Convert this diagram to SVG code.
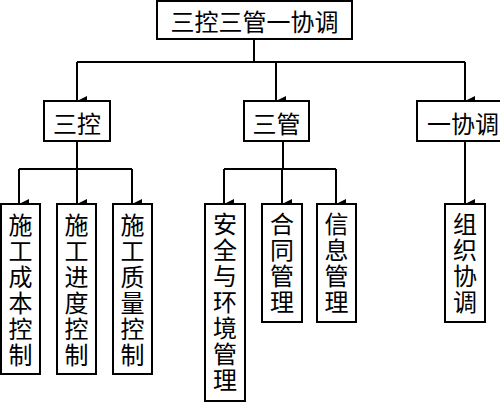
<svg xmlns="http://www.w3.org/2000/svg" width="500" height="412" viewBox="0 0 500 412">
<defs>
<marker id="arr" markerUnits="userSpaceOnUse" markerWidth="10" markerHeight="10" viewBox="0 0 10 10" refX="5" refY="10" orient="auto-start-reverse">
<path d="M0,0 L10,0 L5,10 Z" fill="#000"/>
</marker>
<style>
rect{fill:#fff;stroke:#000;stroke-width:2}
text{font-family:"Noto Sans CJK SC","Noto Sans",sans-serif;font-size:24px;fill:#000;text-anchor:middle;dominant-baseline:central}
text.v{writing-mode:vertical-rl;text-orientation:upright;letter-spacing:2px}
.c path{fill:none;stroke:#000;stroke-width:2}
.a{marker-end:url(#arr)}
</style>
</defs>
<rect x="0" y="0" width="500" height="412" style="fill:#fff;stroke:none"/>
<g class="c" id="connectors">
<path d="M254,39 V62 M77,62 H465"/>
<path class="a" d="M77,62 V101"/>
<path class="a" d="M276,62 V101"/>
<path class="a" d="M465,62 V101"/>
<path d="M77,141 V169 M19,169 H132"/>
<path class="a" d="M19,169 V204"/>
<path class="a" d="M77,169 V204"/>
<path class="a" d="M132,169 V204"/>
<path d="M283,141 V169 M224,169 H336"/>
<path class="a" d="M224,169 V204"/>
<path class="a" d="M282,169 V204"/>
<path class="a" d="M336,169 V204"/>
<path class="a" d="M465,141 V204"/>
</g>
<g id="root"><rect x="157" y="1" width="195" height="38"/><text x="254.5" y="20">三控三管一协调</text></g>
<g id="sankong"><rect x="44" y="101" width="66" height="40"/><text x="77" y="122">三控</text></g>
<g id="sanguan"><rect x="244" y="101" width="65" height="40"/><text x="276.5" y="122">三管</text></g>
<g id="yixietiao"><rect x="417" y="101" width="96" height="40"/><text x="463" y="122">一协调</text></g>
<g id="n1"><rect x="1" y="204" width="39" height="170"/><text class="v" x="20.5" y="291">施工成本控制</text></g>
<g id="n2"><rect x="57" y="204" width="39" height="170"/><text class="v" x="76.5" y="291">施工进度控制</text></g>
<g id="n3"><rect x="113" y="204" width="39" height="170"/><text class="v" x="132.5" y="291">施工质量控制</text></g>
<g id="n4"><rect x="205" y="204" width="40" height="197"/><text class="v" x="225" y="303">安全与环境管理</text></g>
<g id="n5"><rect x="262" y="204" width="40" height="118"/><text class="v" x="282" y="264">合同管理</text></g>
<g id="n6"><rect x="317" y="204" width="39" height="118"/><text class="v" x="336.5" y="264">信息管理</text></g>
<g id="n7"><rect x="445" y="204" width="40" height="118"/><text class="v" x="465" y="264">组织协调</text></g>
</svg>
